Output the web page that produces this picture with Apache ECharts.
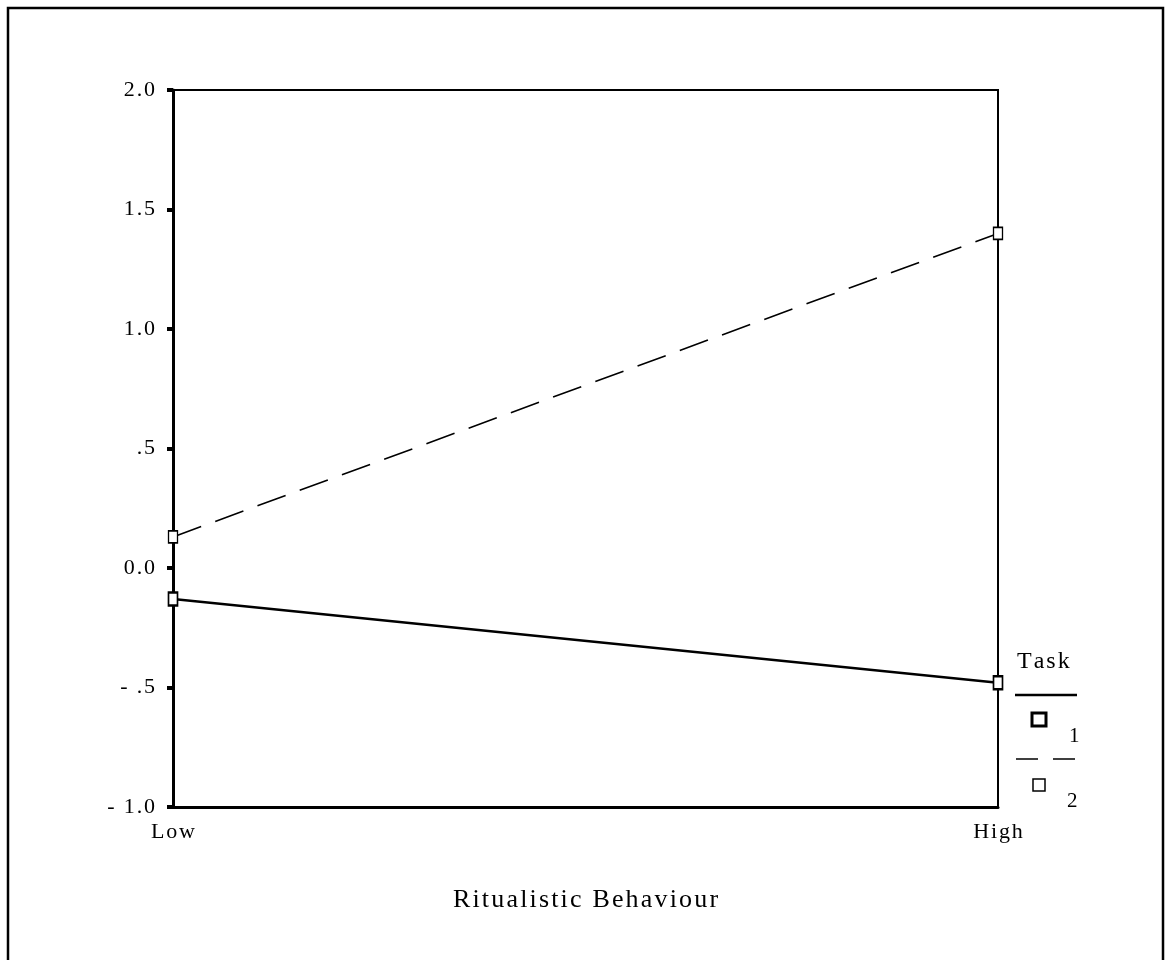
<!DOCTYPE html>
<html>
<head>
<meta charset="utf-8">
<script src="https://cdn.jsdelivr.net/npm/echarts@6/dist/echarts.min.js"></script>
<style>
  html, body { margin: 0; padding: 0; background: #fff; }
  #chart { width: 1165px; height: 960px; }
</style>
</head>
<body>
<div id="chart"></div>
<script>
// data
var categories = ['Low', 'High'];
var task1 = [-0.13, -0.48];
var task2 = [0.13, 1.40];
var seriesNames = ['1', '2'];
var yTickLabels = { '-1': '- 1.0', '-0.5': '- .5', '0': '0.0', '0.5': '.5', '1': '1.0', '1.5': '1.5', '2': '2.0' };
var xTitle = 'Ritualistic Behaviour';
var legendTitle = 'Task';

var FONT = '"Liberation Serif", "DejaVu Serif", serif';

// the old printout has wide letter spacing, fake it with hair spaces
function spaced(s) {
  return String(s).split('').join('\u200A');
}

var myChart = echarts.init(document.getElementById('chart'));

var option = {
  backgroundColor: '#fff',
  animation: false,
  grid: {
    left: 173,
    right: 167,
    top: 90,
    bottom: 153,
    show: true,
    borderColor: '#000',
    borderWidth: 2
  },
  xAxis: {
    type: 'category',
    data: categories,
    boundaryGap: false,
    name: spaced(xTitle),
    nameLocation: 'middle',
    nameGap: 80,
    nameTextStyle: { fontFamily: FONT, fontSize: 26, color: '#000' },
    axisLine: { show: true, onZero: false, lineStyle: { color: '#000', width: 3 } },
    axisTick: { show: false },
    axisLabel: {
      fontFamily: FONT, fontSize: 22, color: '#000', margin: 14,
      formatter: function (v) { return spaced(v); }
    },
    splitLine: { show: false }
  },
  yAxis: {
    type: 'value',
    min: -1,
    max: 2,
    interval: 0.5,
    axisLine: { show: true, lineStyle: { color: '#000', width: 3 } },
    axisTick: { show: true, length: 6, lineStyle: { color: '#000', width: 4 } },
    axisLabel: {
      fontFamily: FONT, fontSize: 22, color: '#000', margin: 18,
      formatter: function (v) { return spaced(yTickLabels[String(v)] || ''); }
    },
    splitLine: { show: false }
  },
  series: [
    {
      name: seriesNames[0],
      type: 'line',
      data: task1,
      symbol: 'rect',
      symbolSize: [9, 13],
      lineStyle: { color: '#000', width: 2.5, type: 'solid' },
      itemStyle: { color: '#fff', borderColor: '#000', borderWidth: 2 }
    },
    {
      name: seriesNames[1],
      type: 'line',
      data: task2,
      symbol: 'rect',
      symbolSize: [9, 12],
      lineStyle: { color: '#000', width: 1.6, type: [30, 15] },
      itemStyle: { color: '#fff', borderColor: '#000', borderWidth: 1.5 }
    }
  ],
  graphic: [
    // outer frame
    { type: 'rect', shape: { x: 8, y: 8, width: 1155, height: 1000 },
      style: { fill: null, stroke: '#000', lineWidth: 2.5 }, silent: true },
    // legend
    { type: 'text', left: 1017, top: 650,
      style: { text: spaced(legendTitle), font: '24px ' + FONT, fill: '#000' } },
    { type: 'line', shape: { x1: 1015, y1: 695, x2: 1077, y2: 695 },
      style: { stroke: '#000', lineWidth: 2.5 } },
    { type: 'rect', shape: { x: 1032, y: 713, width: 14, height: 13 },
      style: { fill: '#fff', stroke: '#000', lineWidth: 3 } },
    { type: 'text', left: 1069, top: 726,
      style: { text: seriesNames[0], font: '21px ' + FONT, fill: '#000' } },
    { type: 'line', shape: { x1: 1016, y1: 759, x2: 1077, y2: 759 },
      style: { stroke: '#000', lineWidth: 1.6, lineDash: [22, 15] } },
    { type: 'rect', shape: { x: 1033, y: 779, width: 12, height: 12 },
      style: { fill: '#fff', stroke: '#000', lineWidth: 1.5 } },
    { type: 'text', left: 1067, top: 791,
      style: { text: seriesNames[1], font: '21px ' + FONT, fill: '#000' } }
  ]
};

myChart.setOption(option);
window.onresize = myChart.resize;
</script>
</body>
</html>
